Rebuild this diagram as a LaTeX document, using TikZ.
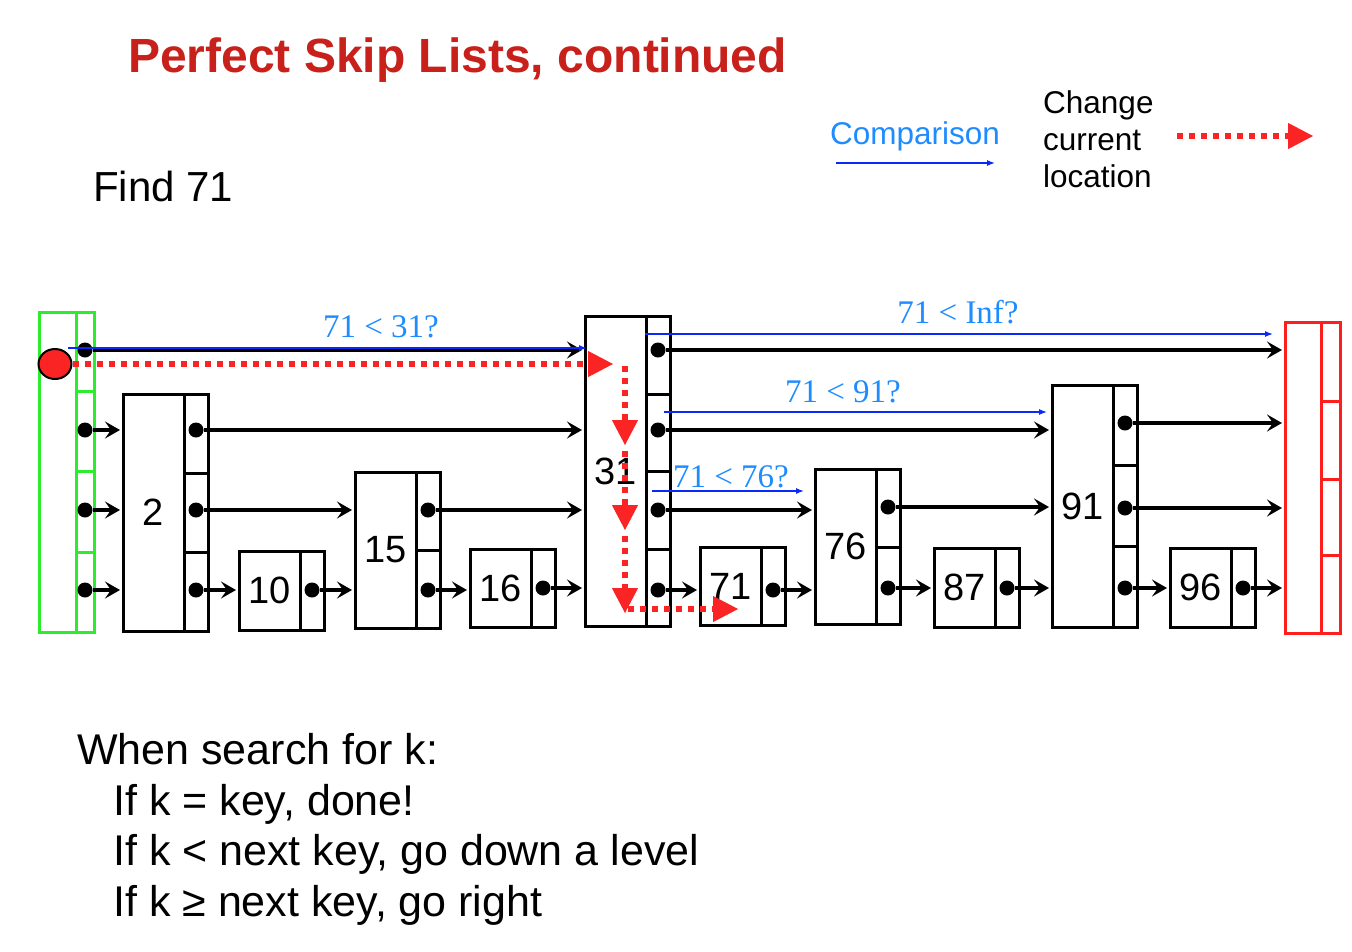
\documentclass[tikz,border=0pt]{standalone}
\usepackage{fontspec}
\setmainfont{Liberation Sans}
\newfontfamily\cmpfont{Liberation Serif}
\usetikzlibrary{arrows.meta,positioning,shapes.geometric}
\definecolor{titlered}{RGB}{200,32,26}
\definecolor{pathred}{RGB}{250,36,36}
\definecolor{headgreen}{RGB}{45,235,45}
\definecolor{tailred}{RGB}{255,30,30}
\definecolor{cmpline}{RGB}{10,40,250}
\definecolor{cmptext}{RGB}{30,140,255}
\tikzset{
  keybox/.style={draw, line width=3pt, minimum width=61pt, outer sep=0pt, inner sep=0pt,
                 anchor=north west, font=\fontsize{38}{38}\selectfont},
  ptrbox/.style={draw, line width=3pt, minimum width=24pt, outer sep=0pt, inner sep=0pt,
                 anchor=north west},
  ptrdot/.style={circle, fill, inner sep=0pt, minimum size=15pt},
  nextlink/.style={line width=3.5pt, -{Stealth[length=15pt,width=17pt,inset=6pt]}},
  cmparrow/.style={cmpline, line width=1.2pt, -{Latex[length=8pt,width=6pt]}},
  cmplabel/.style={cmptext, anchor=base, inner sep=0pt, font=\cmpfont\fontsize{33}{33}\selectfont},
  moveto/.style={pathred, line width=6pt, dash pattern=on 6pt off 6pt,
                 -{Triangle[length=25pt,width=26pt,line width=1pt]}},
  slidetext/.style={anchor=base west, inner sep=0pt}
}
\newcommand{\skiptower}[5]{\node[keybox, minimum height=#4pt] (#1) at (#2,#3) {#5};
                           \node[ptrbox, minimum height=#4pt] (#1p) at (#1.north east) {};}
\newcommand{\putdot}[3]{\node[ptrdot] (#1) at (#2 |- 0,#3) {};}
\newcommand{\ptrcut}[2]{\draw[line width=3pt] (#1.west |- 0,#2) -- (#1.east |- 0,#2);}

\begin{document}
\begin{tikzpicture}[x=1pt,y=-1pt]
\useasboundingbox (0,0) rectangle (1352,951);

% title and text
\node[slidetext, titlered, font=\fontsize{48}{48}\selectfont\bfseries] (title) at (128,72) {Perfect Skip Lists, continued};
\node[slidetext, font=\fontsize{42}{42}\selectfont] (find) at (93,201) {Find 71};
\node[slidetext, font=\fontsize{43}{43}\selectfont] (rule0) at (77,764) {When search for k:};
\node[slidetext, font=\fontsize{43}{43}\selectfont] (rule1) at (113,815) {If k = key, done!};
\node[slidetext, font=\fontsize{43}{43}\selectfont] (rule2) at (113,865) {If k < next key, go down a level};
\node[slidetext, font=\fontsize{43}{43}\selectfont] (rule3) at (113,916) {If k ≥ next key, go right};

% legend
\node[cmptext, inner sep=0pt, font=\fontsize{31.5}{31.5}\selectfont] (cmp) at (915,136) {Comparison};
\coordinate (cmps) at (836,163);
\coordinate (cmpe) at (995,163);
\draw[cmparrow] (cmps) -- (cmpe);
\node[anchor=west, inner sep=0pt, align=left, font=\fontsize{31.5}{37}\selectfont] (chg) at (1043,139) {Change\\current\\location};
\coordinate (chgs) at (1177,136);
\coordinate (chge) at (1313,136);
\draw[moveto] (chgs) -- (chge);

% head and tail
\begin{scope}[headgreen]
  \node[keybox, minimum width=37pt, minimum height=320pt] (head) at (39,312) {};
  \node[ptrbox, minimum width=18pt, minimum height=320pt] (headp) at (head.north east) {};
  \ptrcut{headp}{391} \ptrcut{headp}{471} \ptrcut{headp}{552}
\end{scope}
\begin{scope}[tailred]
  \node[keybox, minimum width=36pt, minimum height=311pt] (tail) at (1285,322) {};
  \node[ptrbox, minimum width=19pt, minimum height=311pt] (tailp) at (tail.north east) {};
  \ptrcut{tailp}{401} \ptrcut{tailp}{479} \ptrcut{tailp}{555}
\end{scope}

% towers
\skiptower{n2}{123}{394}{237}{2}
\skiptower{n10}{239}{551}{79}{10}
\skiptower{n15}{355}{472}{156}{15}
\skiptower{n16}{470}{549}{78}{16}
\skiptower{n31}{585}{316}{310}{31}
\skiptower{n71}{700}{547}{78}{71}
\skiptower{n76}{815}{469}{155}{76}
\skiptower{n87}{934}{548}{79}{87}
\skiptower{n91}{1052}{385}{242}{91}
\skiptower{n96}{1170}{548}{79}{96}
\ptrcut{n2p}{473} \ptrcut{n2p}{552}
\ptrcut{n15p}{550}
\ptrcut{n31p}{394} \ptrcut{n31p}{471} \ptrcut{n31p}{549}
\ptrcut{n76p}{547}
\ptrcut{n91p}{465} \ptrcut{n91p}{546}

% pointers
\putdot{head3}{headp}{350} \putdot{head2}{headp}{430}
\putdot{head1}{headp}{510} \putdot{head0}{headp}{590}
\putdot{n2l2}{n2p}{430} \putdot{n2l1}{n2p}{510} \putdot{n2l0}{n2p}{590}
\putdot{n10l0}{n10p}{590}
\putdot{n15l1}{n15p}{510} \putdot{n15l0}{n15p}{590}
\putdot{n16l0}{n16p}{588}
\putdot{n31l3}{n31p}{350} \putdot{n31l2}{n31p}{430}
\putdot{n31l1}{n31p}{510} \putdot{n31l0}{n31p}{590}
\putdot{n71l0}{n71p}{590}
\putdot{n76l1}{n76p}{507} \putdot{n76l0}{n76p}{588}
\putdot{n87l0}{n87p}{588}
\putdot{n91l2}{n91p}{423} \putdot{n91l1}{n91p}{508} \putdot{n91l0}{n91p}{588}
\putdot{n96l0}{n96p}{588}

\foreach \from/\to in {head3/n31, head2/n2, head1/n2, head0/n2,
                       n2l2/n31, n2l1/n15, n2l0/n10, n10l0/n15,
                       n15l1/n31, n15l0/n16, n16l0/n31,
                       n31l3/tail, n31l2/n91, n31l1/n76, n31l0/n71, n71l0/n76,
                       n76l1/n91, n76l0/n87, n87l0/n91,
                       n91l2/tail, n91l1/tail, n91l0/n96, n96l0/tail}
  \draw[nextlink, shorten >=3pt] (\from) -- (\to.west |- \from);

% comparisons
\coordinate (q1s) at (68,348);   \coordinate (q1e) at (587,348);
\coordinate (q2s) at (645,334);  \coordinate (q2e) at (1273,334);
\coordinate (q3s) at (664,412);  \coordinate (q3e) at (1047,412);
\coordinate (q4s) at (652,491);  \coordinate (q4e) at (804,491);
\draw[cmparrow] (q1s) -- (q1e);
\draw[cmparrow] (q2s) -- (q2e);
\draw[cmparrow] (q3s) -- (q3e);
\draw[cmparrow] (q4s) -- (q4e);
\node[cmplabel] (q1) at (381,337) {71 < 31?};
\node[cmplabel] (q2) at (958,323) {71 < Inf?};
\node[cmplabel] (q3) at (843,402) {71 < 91?};
\node[cmplabel] (q4) at (731,487) {71 < 76?};

% search path
\node[ellipse, draw, line width=2pt, fill=pathred, minimum width=33pt, minimum height=30pt, inner sep=0pt] (cur) at (55,364) {};
\coordinate (m1) at (613,364);
\coordinate (m2s) at (625,366); \coordinate (m2e) at (625,445);
\coordinate (m3s) at (625,451); \coordinate (m3e) at (625,530);
\coordinate (m4s) at (625,536); \coordinate (m4e) at (625,613);
\coordinate (m5s) at (628,609); \coordinate (m5e) at (738,609);
\draw[moveto] (cur) -- (m1);
\draw[moveto] (m2s) -- (m2e);
\draw[moveto] (m3s) -- (m3e);
\draw[moveto] (m4s) -- (m4e);
\draw[moveto] (m5s) -- (m5e);
\end{tikzpicture}
\end{document}
